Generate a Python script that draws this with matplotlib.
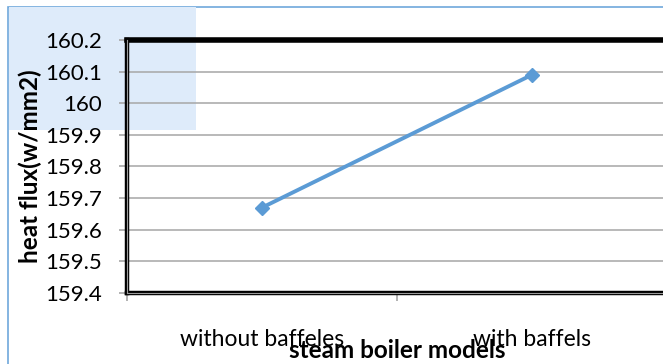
import matplotlib
matplotlib.use("Agg")
import matplotlib.pyplot as plt
from matplotlib.patches import Rectangle
from matplotlib.ticker import FixedLocator

categories = ["without baffeles", "with baffels"]
heat_flux = [159.67, 160.09]
y_ticks = [159.4, 159.5, 159.6, 159.7, 159.8, 159.9, 160.0, 160.1, 160.2]
y_tick_labels = ["159.4", "159.5", "159.6", "159.7", "159.8", "159.9", "160", "160.1", "160.2"]

W, H = 663, 364
plt.rcParams["font.family"] = ["Lato", "DejaVu Sans"]
fig = plt.figure(figsize=(W / 100, H / 100), dpi=100)

# chart area outline and the pale title-area block
fig.patches.append(Rectangle((8 / W, -0.1), 1.2, (H - 7) / H + 0.1, transform=fig.transFigure,
                             facecolor="white", edgecolor="#6FA8DC", lw=1.2, zorder=0))
fig.patches.append(Rectangle((8.5 / W, (H - 130) / H), 187 / W, 123 / H, transform=fig.transFigure,
                             facecolor="#DEEBFA", edgecolor="none", zorder=0.5))

ax = fig.add_axes([127 / W, (H - 293) / H, 540 / W, 253 / H])
ax.set_zorder(2)
ax.patch.set_alpha(0)

x = list(range(len(categories)))
ax.plot(x, heat_flux, color="#5B9BD5", lw=2.8, marker="D", ms=7.5,
        markerfacecolor="#5B9BD5", markeredgecolor="#5B9BD5", zorder=3)

ax.set_xlim(-0.5, len(categories) - 0.5)
ax.set_ylim(159.4, 160.2)
ax.set_yticks(y_ticks)
ax.set_yticklabels(y_tick_labels)
ax.yaxis.grid(True, color="#A6A6A6", lw=1.1)
ax.set_axisbelow(True)

ax.set_xticks(x)
ax.set_xticklabels(categories)
ax.xaxis.set_minor_locator(FixedLocator([-0.5, 0.5, 1.5]))
ax.tick_params(axis="x", which="major", length=0, pad=26, labelsize=16.5, colors="black")
ax.tick_params(axis="x", which="minor", length=6, color="#A6A6A6", width=1.2)
ax.tick_params(axis="y", length=6, color="#A6A6A6", width=1.2, pad=12, labelsize=16)

for side in ("left", "bottom"):
    ax.spines[side].set_color("black")
    ax.spines[side].set_linewidth(3.2)
ax.spines["top"].set_color("black")
ax.spines["top"].set_linewidth(4)
ax.spines["right"].set_visible(False)

# thin grey stripe inside the left and bottom frame lines
ax.axvline(-0.5, color="#9A9A9A", lw=0.8, clip_on=False, zorder=4)
ax.axhline(159.4, color="#9A9A9A", lw=0.8, clip_on=False, zorder=4)

fig.text(30 / W, (H - 166) / H, "heat flux(w/mm2)", rotation=90, ha="center", va="center",
         fontsize=17.5, fontweight="bold", zorder=3)
fig.text(397 / W, (H - 350) / H, "steam boiler models", ha="center", va="center",
         fontsize=17.5, fontweight="bold", zorder=3)

fig.savefig("out.png", dpi=100)
